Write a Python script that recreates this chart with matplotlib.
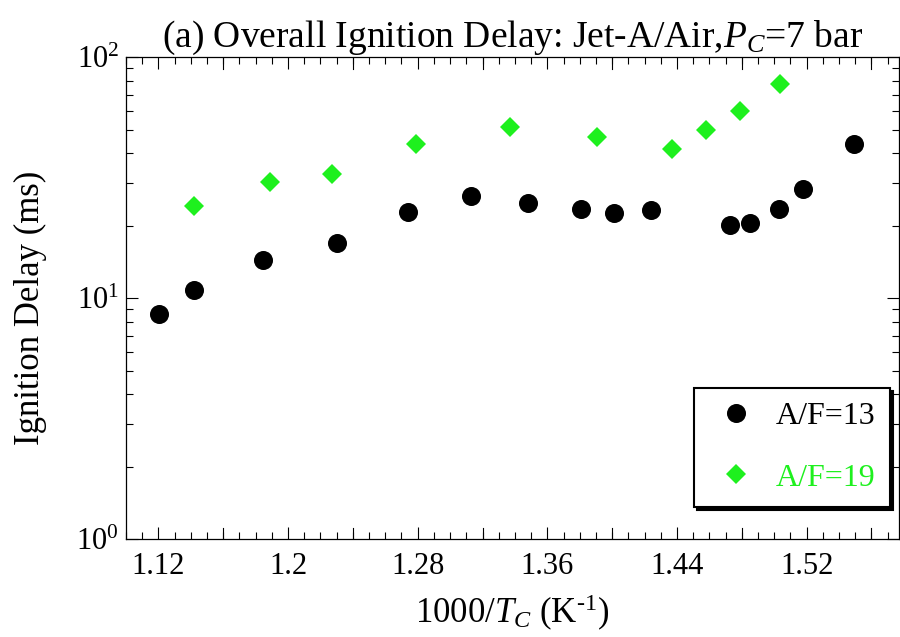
import matplotlib
matplotlib.use("Agg")
import matplotlib.pyplot as plt
from matplotlib.ticker import FixedLocator, MultipleLocator, LogLocator, LogFormatterMathtext, NullFormatter

plt.rcParams['font.family'] = ['Liberation Serif', 'DejaVu Serif']
plt.rcParams['mathtext.fontset'] = 'custom'
plt.rcParams['mathtext.rm'] = 'Liberation Serif'
plt.rcParams['mathtext.it'] = 'Liberation Serif:italic'
plt.rcParams['mathtext.bf'] = 'Liberation Serif:bold'

# Overall ignition delay, Jet-A/air at 7 bar
inv_T_af13 = [1.1204, 1.1422, 1.1844, 1.2302, 1.2739, 1.3129, 1.3481, 1.3809,
              1.4009, 1.4239, 1.4729, 1.4848, 1.5031, 1.5179, 1.5490]
delay_af13 = [8.61, 10.86, 14.38, 17.01, 22.87, 26.50, 24.93, 23.48,
              22.66, 23.19, 20.15, 20.59, 23.48, 28.34, 43.55]

inv_T_af19 = [1.1420, 1.1891, 1.2272, 1.2790, 1.3372, 1.3908, 1.4367,
              1.4581, 1.4787, 1.5037]
delay_af19 = [24.23, 30.46, 32.89, 43.55, 51.52, 46.83, 41.76,
              50.06, 60.02, 77.48]

labels = ["A/F=13", "A/F=19"]
x_ticks = [1.12, 1.20, 1.28, 1.36, 1.44, 1.52]
x_tick_labels = ["1.12", "1.2", "1.28", "1.36", "1.44", "1.52"]

green = '#1ef01e'
fs_tick = 22
fs_label = 25
fs_title = 27

fig = plt.figure(figsize=(9, 6.37), dpi=100)
ax = fig.add_axes([0.14, 0.1534, 0.8589, 0.7567])

ax.plot(inv_T_af13, delay_af13, 'o', color='black', ms=13.7, mew=0,
        label=labels[0], zorder=3)
ax.plot(inv_T_af19, delay_af19, 'D', color=green, ms=9.7, mew=0,
        label=labels[1], zorder=3)

ax.set_yscale('log')
ax.set_xlim(1.1, 1.577)
ax.set_ylim(1, 100)

# x ticks: labels every 0.08, long marks every 0.04, short every 0.01
ax.xaxis.set_major_locator(FixedLocator(x_ticks))
ax.set_xticklabels(x_tick_labels)
ax.xaxis.set_minor_locator(MultipleLocator(0.01))
for t in [1.16, 1.24, 1.32, 1.40, 1.48, 1.56]:
    ax.axvline(t, ymin=0, ymax=11.7 / 482, color='black', lw=0.8, zorder=1)
    ax.axvline(t, ymin=1 - 11.7 / 482, ymax=1, color='black', lw=0.8, zorder=1)

ax.yaxis.set_major_locator(LogLocator(base=10, numticks=5))
ax.yaxis.set_major_formatter(LogFormatterMathtext())
ax.yaxis.set_minor_locator(LogLocator(base=10, subs=range(2, 10), numticks=20))
ax.yaxis.set_minor_formatter(NullFormatter())

ax.tick_params(which='both', direction='in', top=True, right=True,
               width=0.8, color='black')
ax.tick_params(which='major', length=8.4, labelsize=fs_tick)
ax.tick_params(which='minor', length=4.8)
ax.tick_params(axis='x', which='major', pad=9)
ax.tick_params(axis='y', which='major', pad=5)

for s in ax.spines.values():
    s.set_linewidth(0.9)
    s.set_color('black')

ax.set_title(r"(a) Overall Ignition Delay: Jet-A/Air,$\mathit{P}_{\mathit{C}}$=7 bar",
             fontsize=fs_title, pad=6)
ax.set_ylabel("Ignition Delay (ms)", fontsize=fs_label)
ax.yaxis.set_label_coords(-0.102, 0.48)
ax.set_xlabel(r"1000/$\mathit{T}_{\mathit{C}}$ (K$^{\text{-1}}$)", fontsize=fs_label)
ax.xaxis.label.set_verticalalignment('baseline')
ax.xaxis.set_label_coords(0.5, -0.174)

leg = ax.legend(loc='lower right', bbox_to_anchor=(0.988, 0.067),
                borderaxespad=0, fontsize=23, frameon=True, fancybox=False,
                shadow={'color': 'black', 'alpha': 1, 'ox': 2.2, 'oy': -2.2},
                borderpad=0.45, handlelength=1.7, handletextpad=0.4,
                labelspacing=1.0, numpoints=1)
leg.get_frame().set_edgecolor('black')
leg.get_frame().set_linewidth(1.5)
leg.get_frame().set_alpha(1)
for txt, col in zip(leg.get_texts(), ['black', green]):
    txt.set_color(col)

fig.savefig("out.png", dpi=100)
